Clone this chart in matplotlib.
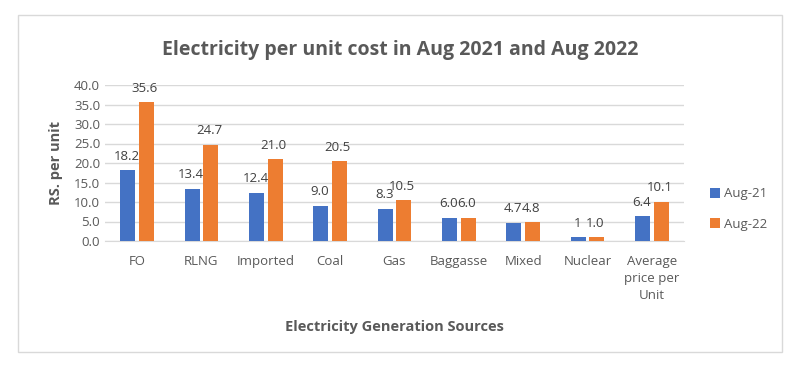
import numpy as np
import matplotlib.pyplot as plt
from matplotlib.patches import Rectangle

plt.rcParams['font.family'] = ['Open Sans', 'DejaVu Sans']

categories = ['FO', 'RLNG', 'Imported', 'Coal', 'Gas', 'Baggasse', 'Mixed',
              'Nuclear', 'Average\nprice per\nUnit']
aug21 = [18.2, 13.4, 12.4, 9.0, 8.3, 6.0, 4.7, 1.0, 6.4]
aug22 = [35.6, 24.7, 21.0, 20.5, 10.5, 6.0, 4.8, 1.0, 10.1]
labels21 = ['18.2', '13.4', '12.4', '9.0', '8.3', '6.0', '4.7', '1', '6.4']
labels22 = ['35.6', '24.7', '21.0', '20.5', '10.5', '6.0', '4.8', '1.0', '10.1']

blue = '#4472c4'
orange = '#ed7d31'
txt = '#595959'

fig = plt.figure(figsize=(8.04, 3.69), dpi=100)
fig.patches.append(Rectangle((18 / 804, 1 - 352 / 369), 764 / 804, 337 / 369,
                             transform=fig.transFigure, fill=False,
                             edgecolor='#d9d9d9', lw=1))

ax = fig.add_axes([105 / 804, 1 - 241 / 369, 579 / 804, 156 / 369])
x = np.arange(len(categories))
w = 0.23
b1 = ax.bar(x - 0.145, aug21, w, color=blue, label='Aug-21', zorder=3)
b2 = ax.bar(x + 0.145, aug22, w, color=orange, label='Aug-22', zorder=3)

for xi, v, s in zip(x, aug21, labels21):
    ax.text(xi - 0.16, v + 1.9, s, ha='center', va='bottom', fontsize=9.5, color='#404040')
for xi, v, s in zip(x, aug22, labels22):
    ax.text(xi + 0.12, v + 1.9, s, ha='center', va='bottom', fontsize=9.5, color='#404040')

ax.set_xlim(-0.5, len(categories) - 0.5)
ax.set_ylim(0, 40)
ax.set_yticks(np.arange(0, 41, 5))
ax.set_yticklabels([f'{v:.1f}' for v in np.arange(0, 41, 5)])
ax.set_xticks(x)
ax.set_xticklabels(categories, linespacing=1.4)
ax.tick_params(axis='both', length=0, labelsize=9.5, labelcolor=txt)
ax.tick_params(axis='x', pad=10)
ax.grid(axis='y', color='#d9d9d9', lw=1, zorder=0)
for sp in ['top', 'right', 'left']:
    ax.spines[sp].set_visible(False)
ax.spines['bottom'].set_color('#d9d9d9')

ax.set_ylabel('RS. per unit', fontsize=10.5, fontweight='bold', color=txt, labelpad=8)
ax.set_xlabel('Electricity Generation Sources', fontsize=10.5, fontweight='bold',
              color=txt, labelpad=13)
fig.text(400 / 804, 1 - 50 / 369,
         'Electricity per unit cost in Aug 2021 and Aug 2022',
         ha='center', va='center', fontsize=14, fontweight='bold', color=txt)

fig.legend(handles=[b1, b2], loc='center left', bbox_to_anchor=(698 / 804, 1 - 209 / 369),
           frameon=False, fontsize=9.5, labelcolor=txt, handlelength=0.8,
           handleheight=0.8, handletextpad=0.3, labelspacing=1.3)

fig.savefig('out.png', dpi=100)
